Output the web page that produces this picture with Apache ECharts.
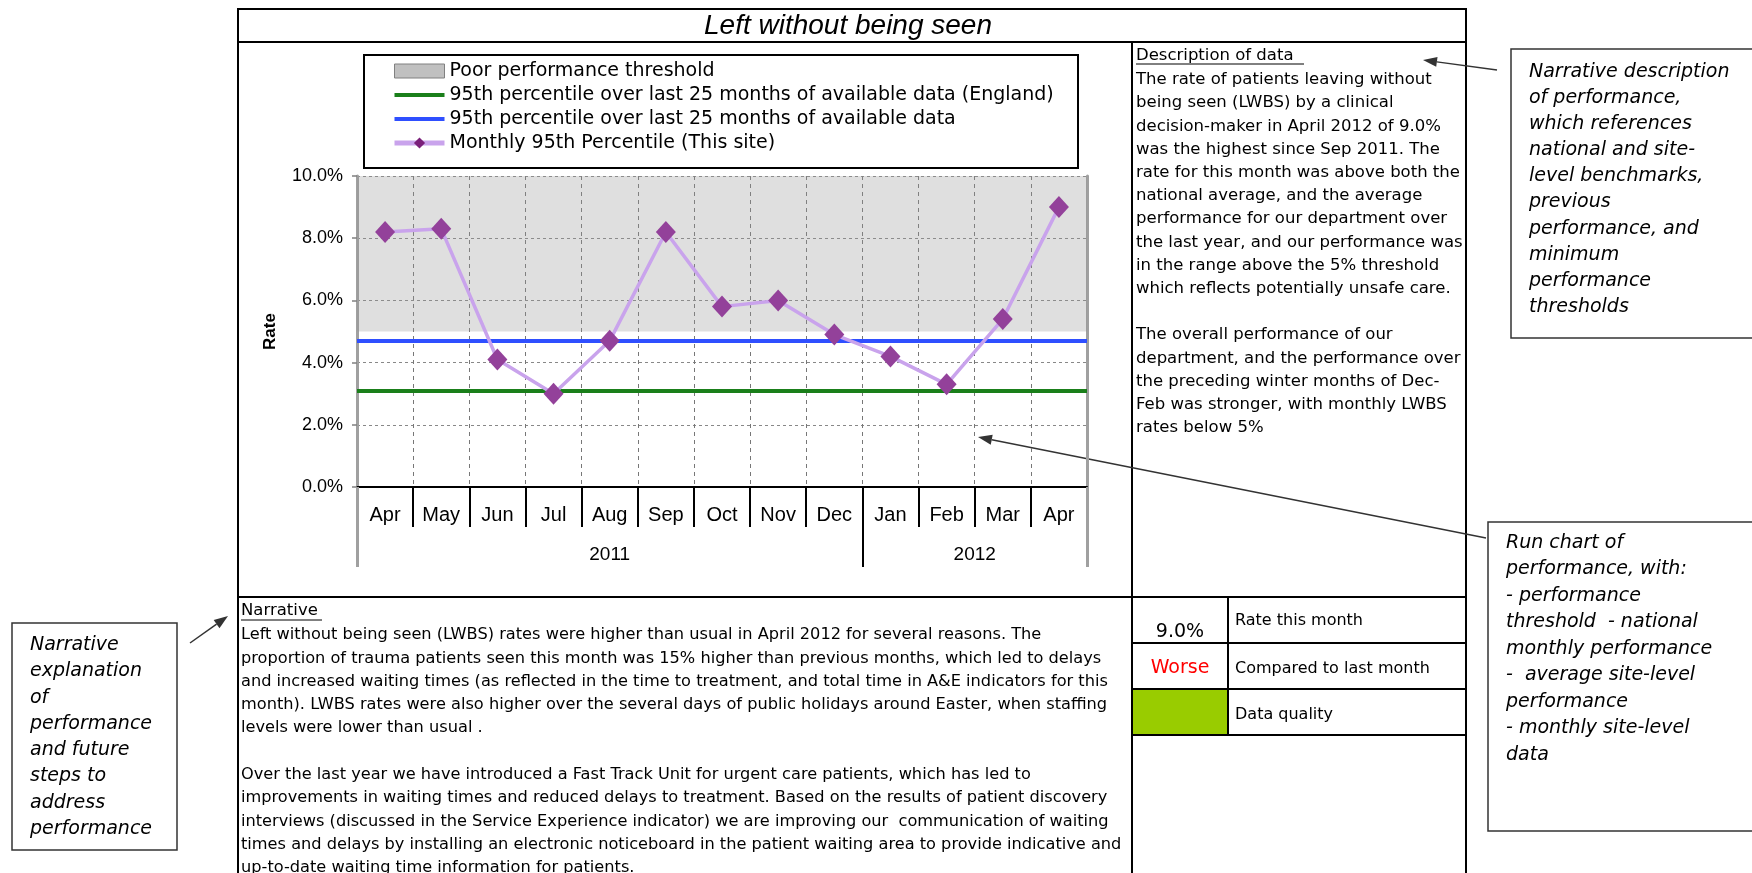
<!DOCTYPE html>
<html><head><meta charset="utf-8">
<script src="https://cdn.jsdelivr.net/npm/echarts@6/dist/echarts.min.js"></script>
<style>html,body{margin:0;padding:0;background:#fff}#c{width:1752px;height:873px}</style>
</head><body><div id="c"></div>
<script>
// ---------------- data ----------------
const months = ['Apr','May','Jun','Jul','Aug','Sep','Oct','Nov','Dec','Jan','Feb','Mar','Apr'];
const years = ['2011','2012'];
const yearStartIndex = [0, 9];           // first month index of each year
const siteRate = [8.2, 8.3, 4.1, 3.0, 4.7, 8.2, 5.8, 6.0, 4.9, 4.2, 3.3, 5.4, 9.0];
const thresholdRate = 5.0;               // poor performance threshold (%)
const englandP95 = 3.1;                  // England 95th percentile (%)
const siteP95 = 4.7;                     // site 95th percentile (%)
const yTicks = [0, 2, 4, 6, 8, 10];

const seriesNames = [
  'Poor performance threshold',
  '95th percentile over last 25 months of available data (England)',
  '95th percentile over last 25 months of available data',
  'Monthly 95th Percentile (This site)'
];

const descriptionLines = [
  'The rate of patients leaving without',
  'being seen (LWBS) by a clinical',
  'decision-maker in April 2012 of 9.0%',
  'was the highest since Sep 2011. The',
  'rate for this month was above both the',
  'national average, and the average',
  'performance for our department over',
  'the last year, and our performance was',
  'in the range above the 5% threshold',
  'which reflects potentially unsafe care.',
  '',
  'The overall performance of our',
  'department, and the performance over',
  'the preceding winter months of Dec-',
  'Feb was stronger, with monthly LWBS',
  'rates below 5%'
];
const narrativeLines = [
  'Left without being seen (LWBS) rates were higher than usual in April 2012 for several reasons. The',
  'proportion of trauma patients seen this month was 15% higher than previous months, which led to delays',
  'and increased waiting times (as reflected in the time to treatment, and total time in A&E indicators for this',
  'month). LWBS rates were also higher over the several days of public holidays around Easter, when staffing',
  'levels were lower than usual .',
  '',
  'Over the last year we have introduced a Fast Track Unit for urgent care patients, which has led to',
  'improvements in waiting times and reduced delays to treatment. Based on the results of patient discovery',
  'interviews (discussed in the Service Experience indicator) we are improving our  communication of waiting',
  'times and delays by installing an electronic noticeboard in the patient waiting area to provide indicative and',
  'up-to-date waiting time information for patients.'
];
const noteDescription = ['Narrative description','of performance,','which references','national and site-','level benchmarks,','previous','performance, and','minimum','performance','thresholds'];
const noteRunChart = ['Run chart of','performance, with:','- performance','threshold  - national','monthly performance','-  average site-level','performance','- monthly site-level','data'];
const noteNarrative = ['Narrative','explanation','of','performance','and future','steps to','address','performance'];

// ---------------- chart ----------------
const chart = echarts.init(document.getElementById('c'), null, {renderer: 'canvas'});
const AX = 'Liberation Sans, Arial, sans-serif';
const TX = 'DejaVu Sans, sans-serif';

function arrow(x1, y1, x2, y2) {
  const dx = x2 - x1, dy = y2 - y1, L = Math.hypot(dx, dy), ux = dx / L, uy = dy / L;
  const hl = 14, hw = 5, bx = x2 - ux * hl, by = y2 - uy * hl;
  return [
    {type: 'line', silent: true, shape: {x1, y1, x2: bx, y2: by}, style: {stroke: '#333', lineWidth: 1.5}},
    {type: 'polygon', silent: true, shape: {points: [[x2, y2], [bx - uy * hw, by + ux * hw], [bx + uy * hw, by - ux * hw]]}, style: {fill: '#333'}}
  ];
}
function hline(x1, x2, y, w, c) { return {type: 'line', silent: true, shape: {x1, y1: y, x2, y2: y}, style: {stroke: c || '#000', lineWidth: w || 2}}; }
function vline(x, y1, y2, w, c) { return {type: 'line', silent: true, shape: {x1: x, y1, x2: x, y2}, style: {stroke: c || '#000', lineWidth: w || 2}}; }
function txt(x, y, text, o) {
  return {type: 'text', silent: true, x, y, style: Object.assign({text, fill: '#000', fontFamily: TX, fontSize: 16, align: 'left', verticalAlign: 'middle'}, o || {})};
}

const last = siteRate[siteRate.length - 1], prev = siteRate[siteRate.length - 2];
const baseGraphics = [
  // frame
  {type: 'rect', silent: true, shape: {x: 238, y: 9, width: 1228, height: 900}, style: {fill: 'none', stroke: '#000', lineWidth: 2}},
  hline(238, 1466, 42),
  vline(1132, 42, 880),
  hline(238, 1466, 597),
  // title
  txt(848, 26, 'Left without being seen', {fontFamily: AX, fontSize: 28, fontStyle: 'italic', align: 'center'}),
  // legend box
  {type: 'rect', silent: true, shape: {x: 364, y: 55, width: 714, height: 113}, style: {fill: 'none', stroke: '#000', lineWidth: 2}},
  // description
  txt(1136, 56, 'Description of data', {fontSize: 16.5}),
  hline(1136, 1304, 64, 1),
  txt(1136, 68.4, descriptionLines.join('\n'), {fontSize: 16.5, verticalAlign: 'top', lineHeight: 23.2}),
  // narrative
  txt(241, 611, 'Narrative', {fontSize: 16.5}),
  hline(241, 322, 620, 1),
  txt(241, 623.4, narrativeLines.join('\n'), {fontSize: 16.2, verticalAlign: 'top', lineHeight: 23.3}),
  // table
  {type: 'rect', silent: true, shape: {x: 1133, y: 689, width: 95, height: 46}, style: {fill: '#99cc00'}},
  hline(1132, 1466, 643), hline(1132, 1466, 689), hline(1132, 1466, 735),
  vline(1228, 597, 735),
  txt(1180, 632, last.toFixed(1) + '%', {fontSize: 19, align: 'center'}),
  txt(1180, 668, last > prev ? 'Worse' : 'Better', {fontSize: 19, align: 'center', fill: last > prev ? '#ff0000' : '#008000'}),
  txt(1235, 621, 'Rate this month', {fontSize: 16}),
  txt(1235, 669, 'Compared to last month', {fontSize: 16}),
  txt(1235, 715, 'Data quality', {fontSize: 16}),
  // annotation boxes
  {type: 'rect', silent: true, shape: {x: 1511, y: 49, width: 260, height: 289}, style: {fill: '#fff', stroke: '#333', lineWidth: 1.5}},
  txt(1529, 59, noteDescription.join('\n'), {fontSize: 19, fontStyle: 'italic', verticalAlign: 'top', lineHeight: 26.1}),
  {type: 'rect', silent: true, shape: {x: 1488, y: 522, width: 290, height: 309}, style: {fill: '#fff', stroke: '#333', lineWidth: 1.5}},
  txt(1506, 529.7, noteRunChart.join('\n'), {fontSize: 19, fontStyle: 'italic', verticalAlign: 'top', lineHeight: 26.5}),
  {type: 'rect', silent: true, shape: {x: 12, y: 623, width: 165, height: 227}, style: {fill: '#fff', stroke: '#333', lineWidth: 1.5}},
  txt(30, 631.9, noteNarrative.join('\n'), {fontSize: 19, fontStyle: 'italic', verticalAlign: 'top', lineHeight: 26.3}),
  ...arrow(1497, 70, 1423, 60),
  ...arrow(1486, 538, 978, 437),
  ...arrow(190, 643, 228, 616)
];

const yMin = yTicks[0], yMax = yTicks[yTicks.length - 1], yStep = yTicks[1] - yTicks[0];
const barIcon = 'path://M0,0H50V4H0Z';

const option = {
  animation: false,
  backgroundColor: '#fff',
  grid: {left: 357, top: 176, width: 730, height: 311},
  legend: {
    left: 392, top: 61, orient: 'vertical', itemGap: 4, itemWidth: 50, itemHeight: 14, padding: 0,
    selectedMode: false, symbolKeepAspect: true,
    textStyle: {fontFamily: TX, fontSize: 19, color: '#000', lineHeight: 20},
    data: [
      {name: seriesNames[0], icon: 'rect', itemStyle: {color: '#c0c0c0', borderColor: '#808080', borderWidth: 1}},
      {name: seriesNames[1], icon: barIcon, itemStyle: {color: '#1a7f1a'}},
      {name: seriesNames[2], icon: barIcon, itemStyle: {color: '#2f4fff'}},
      {name: seriesNames[3], lineStyle: {width: 5}, itemStyle: {color: '#7a1f7a'}}
    ]
  },
  xAxis: [
    {
      type: 'category', data: months, boundaryGap: true, position: 'bottom',
      axisLine: {lineStyle: {color: '#000', width: 2}},
      axisTick: {show: true, interval: 0, length: 40, lineStyle: {color: '#000', width: 2}},
      axisLabel: {interval: 0, margin: 18, fontSize: 20, fontFamily: AX, color: '#000'},
      splitLine: {show: true, interval: 0, lineStyle: {type: [4, 4], color: '#777', width: 1}}
    },
    {
      type: 'category', data: months, boundaryGap: true, position: 'bottom',
      axisLine: {show: false}, axisLabel: {show: false}, splitLine: {show: false},
      axisTick: {show: true, length: 80, interval: (i) => yearStartIndex.includes(i), lineStyle: {color: '#000', width: 2}}
    },
    {
      type: 'category', data: months, boundaryGap: true, position: 'bottom', z: 5,
      axisLine: {show: false}, axisLabel: {show: false}, splitLine: {show: false},
      axisTick: {show: true, length: 80, interval: (i) => i === 0, lineStyle: {color: '#a0a0a0', width: 3}}
    }
  ],
  yAxis: [
    {
      type: 'value', min: yMin, max: yMax, interval: yStep,
      name: 'Rate', nameLocation: 'middle', nameGap: 78, nameRotate: 90,
      nameTextStyle: {fontFamily: AX, fontWeight: 'bold', fontSize: 17, color: '#000'},
      axisLabel: {formatter: (v) => v.toFixed(1) + '%', fontSize: 18, fontFamily: AX, margin: 14, color: '#000'},
      axisLine: {show: true, lineStyle: {color: '#a0a0a0', width: 3}},
      axisTick: {show: true, length: 5, lineStyle: {color: '#808080', width: 1.5}},
      splitLine: {show: true, lineStyle: {type: [3, 3], color: '#888', width: 1}}
    },
    {
      type: 'value', min: yMin, max: yMax, interval: yStep, position: 'right',
      axisLine: {show: true, lineStyle: {color: '#a0a0a0', width: 3}},
      axisLabel: {show: false}, axisTick: {show: false}, splitLine: {show: false}
    }
  ],
  series: [
    {
      name: seriesNames[0], type: 'line', data: [], symbol: 'none',
      itemStyle: {color: '#c0c0c0'},
      markArea: {silent: true, itemStyle: {color: 'rgba(150,150,150,0.3)'}, data: [[{yAxis: thresholdRate}, {yAxis: yMax}]]}
    },
    {
      name: seriesNames[1], type: 'line', data: [], symbol: 'none',
      itemStyle: {color: '#1a7f1a'}, lineStyle: {color: '#1a7f1a', width: 4},
      markLine: {silent: true, symbol: 'none', label: {show: false}, lineStyle: {color: '#1a7f1a', width: 4, type: 'solid'}, data: [{yAxis: englandP95}]}
    },
    {
      name: seriesNames[2], type: 'line', data: [], symbol: 'none',
      itemStyle: {color: '#2f4fff'}, lineStyle: {color: '#2f4fff', width: 4},
      markLine: {silent: true, symbol: 'none', label: {show: false}, lineStyle: {color: '#2f4fff', width: 4, type: 'solid'}, data: [{yAxis: siteP95}]}
    },
    {
      name: seriesNames[3], type: 'line', data: siteRate, z: 5,
      symbol: 'diamond', symbolSize: [20, 22],
      lineStyle: {color: '#c9a3ec', width: 3.5},
      itemStyle: {color: '#93419a'}
    }
  ],
  graphic: {elements: baseGraphics}
};
chart.setOption(option);

// year group labels, centred on each year's span of months
const p0 = chart.convertToPixel({xAxisIndex: 0}, 0), p1 = chart.convertToPixel({xAxisIndex: 0}, 1);
const band = p1 - p0;
const yearGraphics = years.map((y, k) => {
  const s = yearStartIndex[k];
  const e = k + 1 < yearStartIndex.length ? yearStartIndex[k + 1] : months.length;
  const xs = chart.convertToPixel({xAxisIndex: 0}, s) - band / 2;
  const xe = chart.convertToPixel({xAxisIndex: 0}, e - 1) + band / 2;
  return txt((xs + xe) / 2, 555, y, {fontFamily: AX, fontSize: 19, align: 'center'});
});
chart.setOption({graphic: {elements: baseGraphics.concat(yearGraphics)}});
</script>
</body></html>
